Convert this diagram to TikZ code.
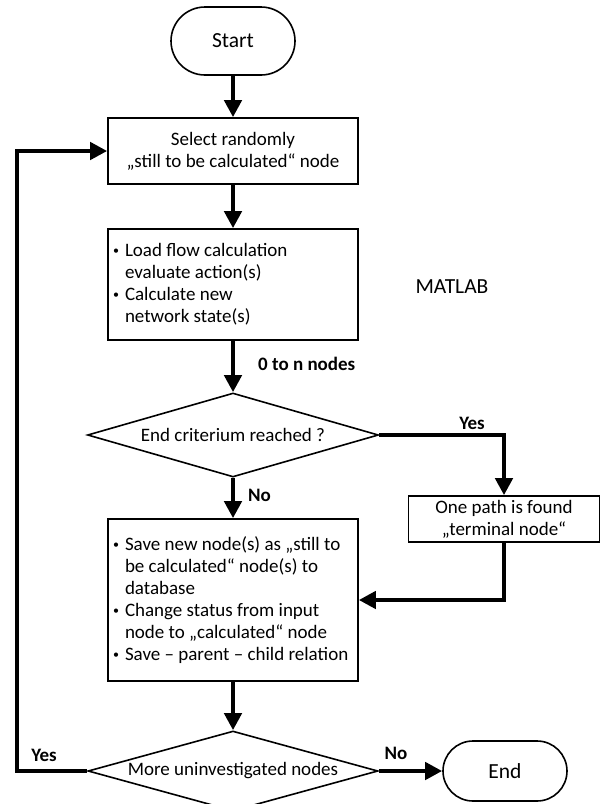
\documentclass[tikz,border=0pt]{standalone}
\usepackage{fontspec}
\setmainfont{Carlito}
\usetikzlibrary{shapes.geometric,arrows.meta}
\newcommand\mydot{\raisebox{1.8pt}{\fontsize{12}{12}\selectfont •}}
\newcommand\myb[1]{\makebox[240pt][l]{\makebox[12pt][l]{\mydot}#1}}
\newcommand\myc[1]{\makebox[240pt][l]{\hspace*{12pt}#1}}
\begin{document}
\begin{tikzpicture}[x=1pt,y=-1pt,
  box/.style={draw=black,line width=1.6pt,rectangle,inner sep=0pt,font=\fontsize{19}{22}\selectfont},
  term/.style={draw=black,line width=1.6pt,rectangle,rounded corners=#1,inner sep=0pt,font=\fontsize{21.5}{24}\selectfont},
  dec/.style={draw=black,line width=1.6pt,diamond,aspect=1,inner sep=0pt,font=\fontsize{19}{22}\selectfont},
  flow/.style={line width=4.5pt,-{Triangle[width=17pt,length=17pt]}},
  lbl/.style={font=\bfseries\fontsize{19}{22}\selectfont,inner sep=0pt}]
\useasboundingbox[fill=white] (0,0) rectangle (600,804);

\node[term=34pt, minimum width=124pt, minimum height=68pt] (start) at (233,41) {Start};
\node[box, minimum width=250pt, minimum height=66pt, align=center] (sel) at (233,151)
  {Select randomly\\„still to be calculated“ node};
\node[box, minimum width=250pt, minimum height=111pt, align=left] (calc) at (233,284.5)
  {\myb{Load flow calculation}\\\myc{evaluate action(s)}\\\myb{Calculate new}\\\myc{network state(s)}};
\node[font=\fontsize{21.5}{24}\selectfont] (matlab) at (452,287) {MATLAB};
\node[dec, minimum width=291pt, minimum height=84pt] (d1) at (233,435) {\makebox[0pt]{End criterium reached ?}};
\node[box, minimum width=191pt, minimum height=46pt, align=center] (found) at (504,519)
  {One path is found\\„terminal node“};
\node[box, minimum width=250pt, minimum height=162pt, align=left] (save) at (233,600)
  {\myb{Save new node(s) as „still to}\\\myc{be calculated“ node(s) to}\\\myc{database}\\\myb{Change status from input}\\\myc{node to „calculated“ node}\\\myb{Save – parent – child relation}};
\node[dec, minimum width=290pt, minimum height=80pt] (d2) at (233,771) {\makebox[0pt]{More uninvestigated nodes}};
\node[term=30pt, minimum width=124pt, minimum height=60pt] (end) at (505,771) {End};

\node[lbl, anchor=west] (l0n) at (258,364) {0 to n nodes};
\node[lbl] (lyes1) at (472,423) {Yes};
\node[lbl, anchor=west] (lno1) at (248,495) {No};
\node[lbl] (lyes2) at (44,755) {Yes};
\node[lbl] (lno2) at (396,753) {No};

\draw[flow] (start.south) -- (sel.north);
\draw[flow] (sel.south) -- (calc.north);
\draw[flow] (calc.south) -- (d1.north);
\draw[flow] (d1.east) -| (found.north);
\draw[flow] (d1.south) -- (save.north);
\draw[flow] (found.south) |- (save.east);
\draw[flow] (save.south) -- (d2.north);
\draw[flow] (d2.east) -- (end.west);
\draw[flow] (d2.west) -- ++(-70,0) |- (sel.west);
\end{tikzpicture}
\end{document}
